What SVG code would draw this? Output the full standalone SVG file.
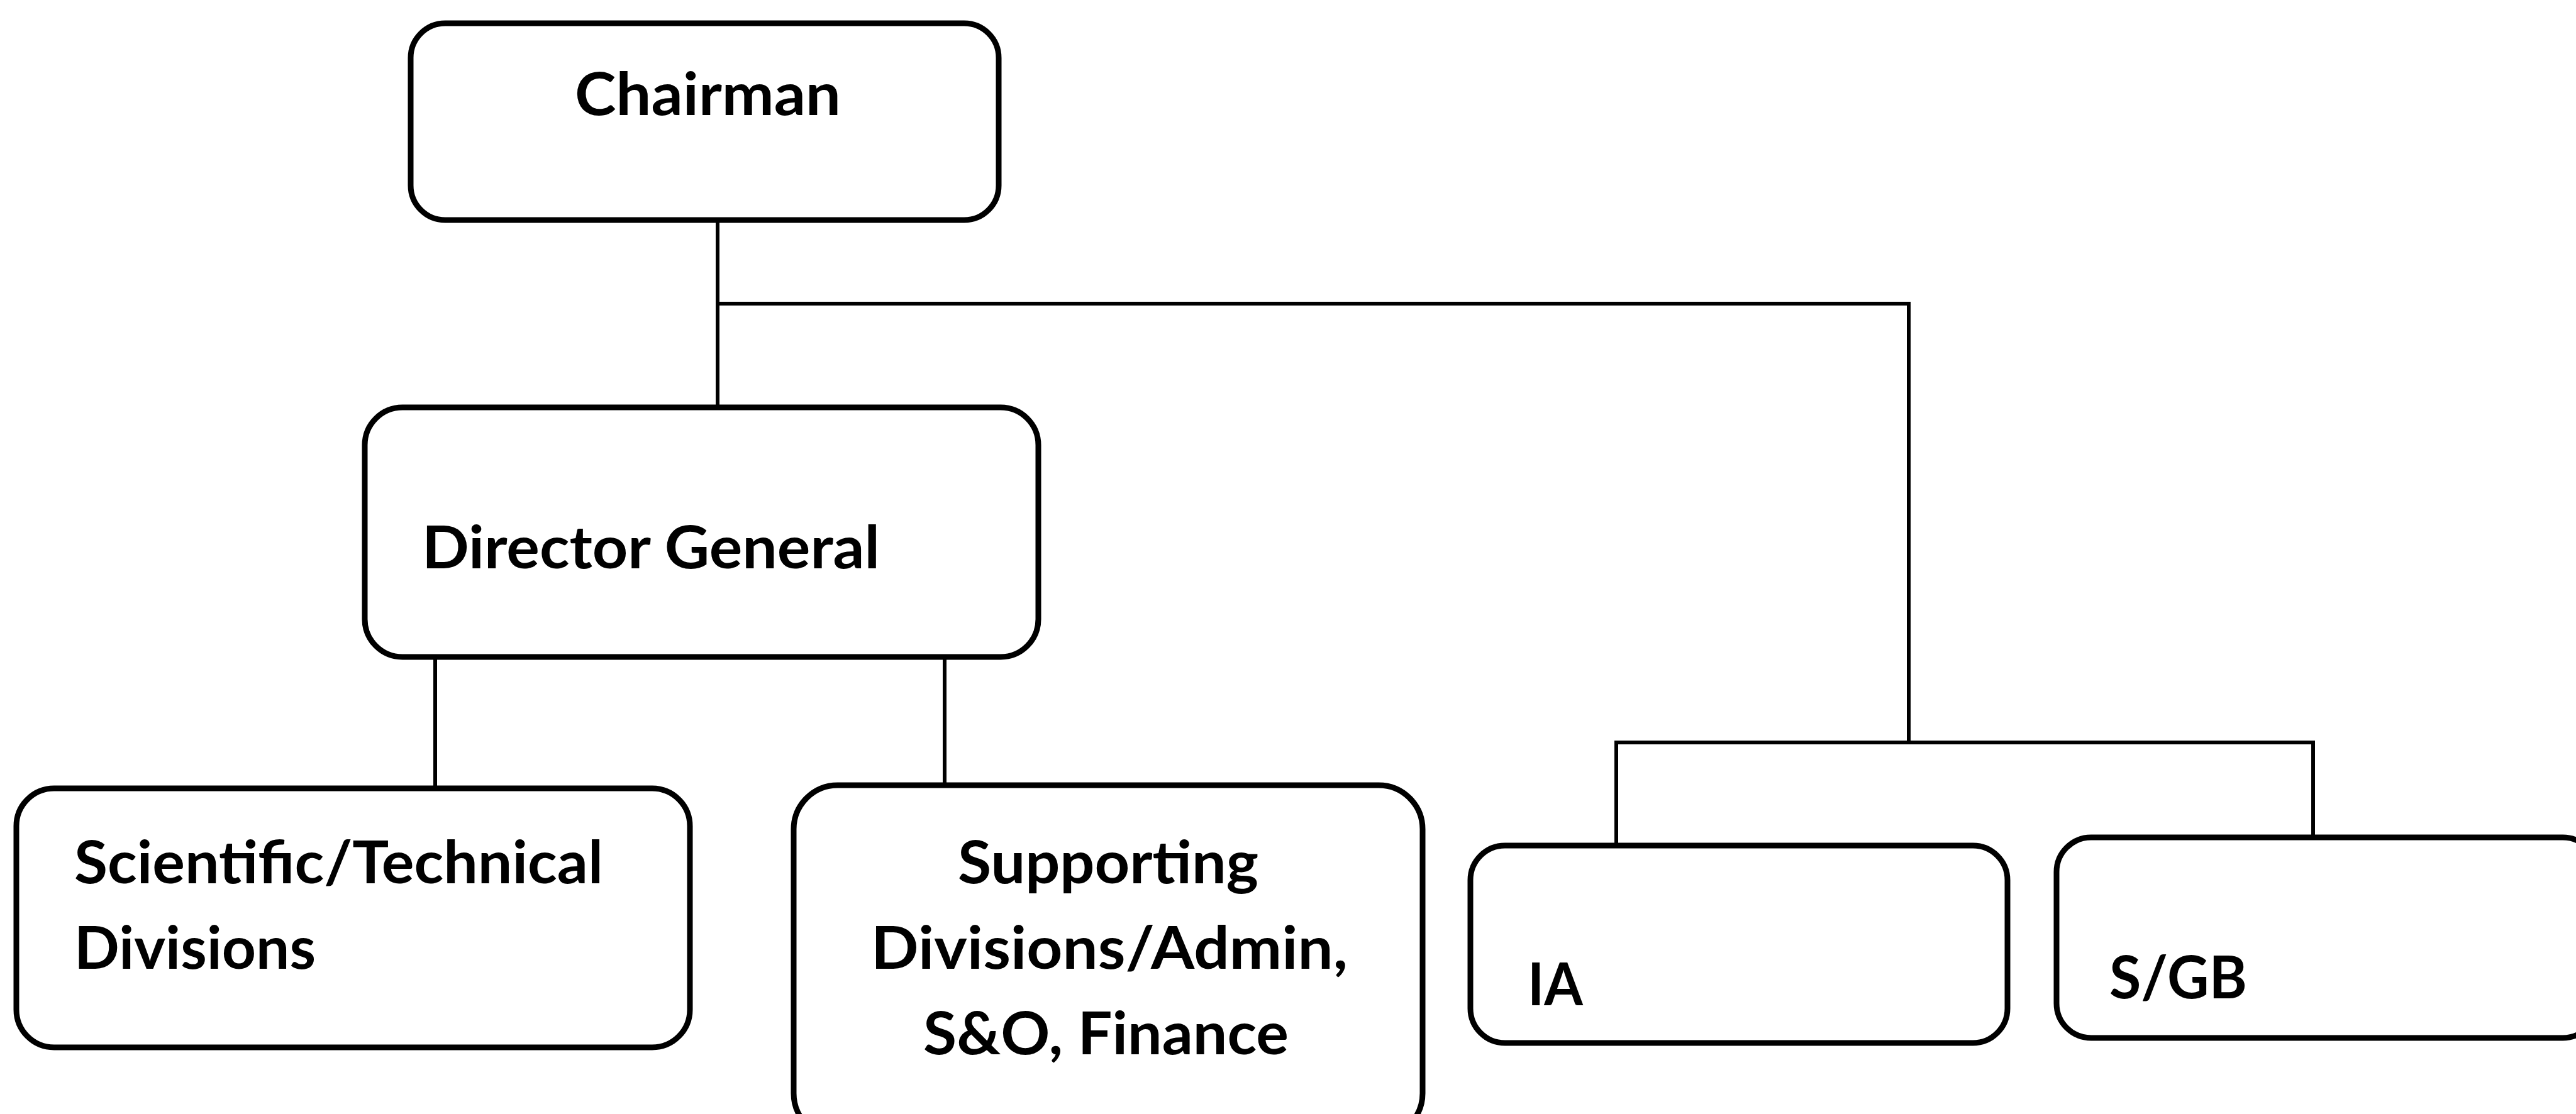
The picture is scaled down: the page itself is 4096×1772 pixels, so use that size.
<svg xmlns="http://www.w3.org/2000/svg" width="4096" height="1772" viewBox="0 0 4096 1772">
<style>
.box{fill:#fff;stroke:#000;stroke-width:9}
.t{font-family:Lato,"Open Sans","Liberation Sans",sans-serif;font-weight:bold;font-size:94px;fill:#000}
.c{stroke:#000;stroke-width:6;fill:none}
</style>
<rect width="4096" height="1772" fill="#fff"/>
<g id="connectors">
<path class="c" d="M1141 350V648"/>
<path class="c" d="M1141 483H3035V1181"/>
<path class="c" d="M2570 1345V1181H3678V1332"/>
<path class="c" d="M692 1045V1254"/>
<path class="c" d="M1502 1045V1249"/>
</g>
<g id="chairman">
<rect class="box" x="653" y="37" width="935" height="313" rx="55"/>
<text class="t" x="914" y="183" textLength="423" lengthAdjust="spacingAndGlyphs">Chairman</text>
</g>
<g id="director-general">
<rect class="box" x="580" y="648" width="1071" height="397" rx="60"/>
<text class="t" x="671" y="904" textLength="728" lengthAdjust="spacingAndGlyphs">Director General</text>
</g>
<g id="scientific">
<rect class="box" x="26" y="1254" width="1071" height="412" rx="60"/>
<text class="t" x="118" y="1405" textLength="841" lengthAdjust="spacingAndGlyphs">Scientific/Technical</text>
<text class="t" x="118" y="1541" textLength="384" lengthAdjust="spacingAndGlyphs">Divisions</text>
</g>
<g id="supporting">
<rect class="box" x="1262" y="1249" width="1000" height="560" rx="70"/>
<text class="t" x="1523" y="1405" textLength="478" lengthAdjust="spacingAndGlyphs">Supporting</text>
<text class="t" x="1385" y="1541" textLength="758" lengthAdjust="spacingAndGlyphs">Divisions/Admin,</text>
<text class="t" x="1468" y="1677" textLength="581" lengthAdjust="spacingAndGlyphs">S&amp;O, Finance</text>
</g>
<g id="ia">
<rect class="box" x="2338" y="1345" width="854" height="314" rx="55"/>
<text class="t" x="2429" y="1599" textLength="88" lengthAdjust="spacingAndGlyphs">IA</text>
</g>
<g id="sgb">
<rect class="box" x="3270" y="1332" width="860" height="319" rx="55"/>
<text class="t" x="3354" y="1588" textLength="219" lengthAdjust="spacingAndGlyphs">S/GB</text>
</g>
</svg>
